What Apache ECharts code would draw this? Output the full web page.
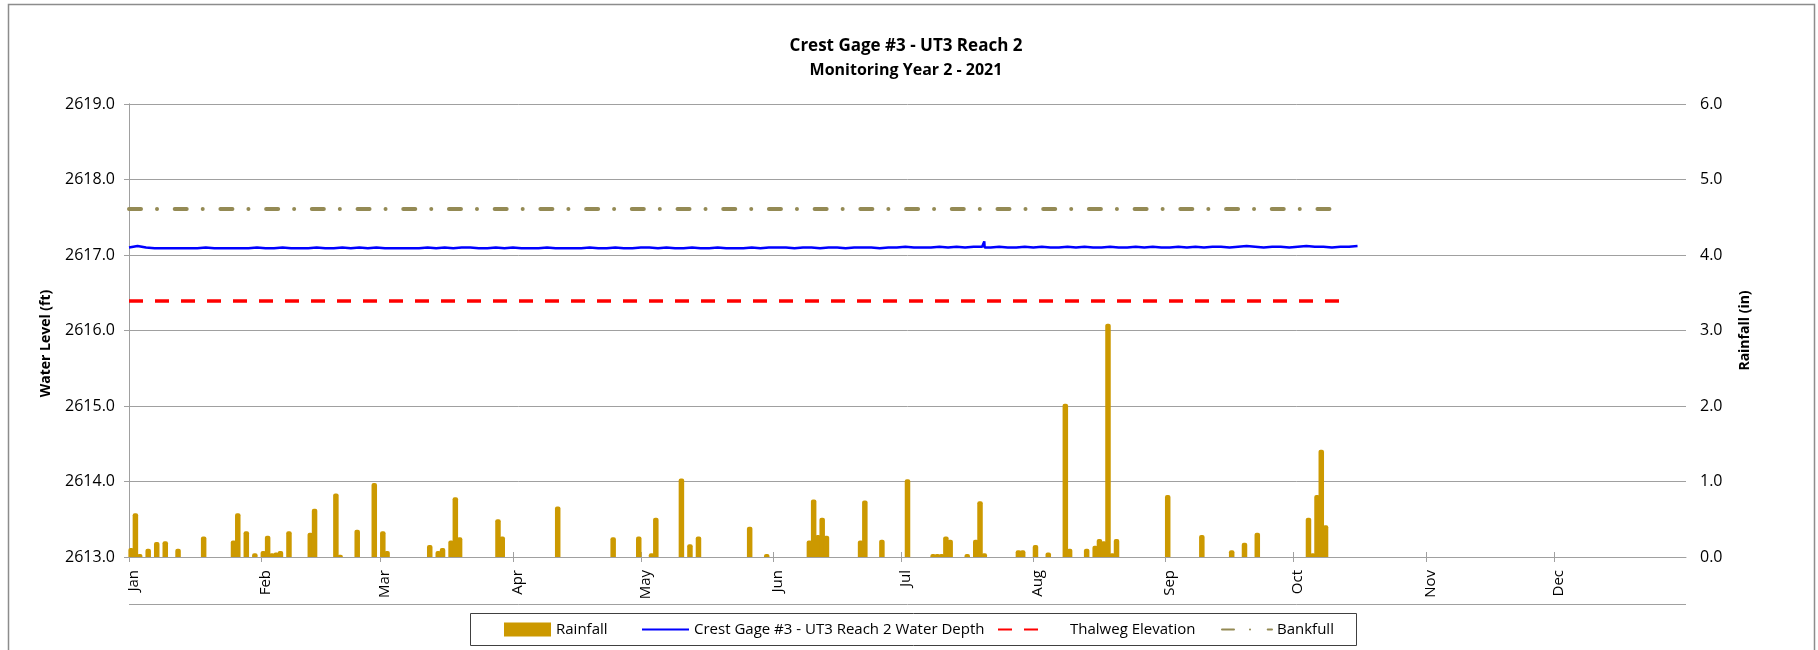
<!DOCTYPE html>
<html>
<head>
<meta charset="utf-8">
<script src="https://cdn.jsdelivr.net/npm/echarts@6/dist/echarts.min.js"></script>
<style>
  html, body { margin: 0; padding: 0; background: #ffffff; }
  #chart { width: 1818px; height: 650px; }
</style>
</head>
<body>
<div id="chart"></div>
<script>
// ---- chart data ----
const YEAR = 2021;
const titleText = 'Crest Gage #3 - UT3 Reach 2';
const subtitleText = 'Monitoring Year 2 - 2021';
const monthLabels = ['Jan', 'Feb', 'Mar', 'Apr', 'May', 'Jun', 'Jul', 'Aug', 'Sep', 'Oct', 'Nov', 'Dec'];

// daily rainfall (in)
const rainDates = [
  '01-01', '01-02', '01-03', '01-05', '01-07', '01-09', '01-12', '01-18', '01-25', '01-26',
  '01-28', '01-30', '02-01', '02-02', '02-03', '02-04', '02-05', '02-07', '02-12', '02-13',
  '02-18', '02-19', '02-23', '02-27', '03-01', '03-02', '03-12', '03-14', '03-15', '03-17',
  '03-18', '03-19', '03-28', '03-29', '04-11', '04-24', '04-30', '05-03', '05-04', '05-10',
  '05-12', '05-14', '05-26', '05-30', '06-09', '06-10', '06-11', '06-12', '06-13', '06-21',
  '06-22', '06-26', '07-02', '07-08', '07-09', '07-10', '07-11', '07-12', '07-16', '07-18',
  '07-19', '07-20', '07-28', '07-29', '08-01', '08-04', '08-08', '08-09', '08-13', '08-15',
  '08-16', '08-17', '08-18', '08-19', '08-20', '09-01', '09-09', '09-16', '09-19', '09-22',
  '10-04', '10-05', '10-06', '10-07', '10-08'
];
const rainValues = [
  0.12, 0.58, 0.04, 0.11, 0.20, 0.21, 0.11, 0.27, 0.22, 0.58,
  0.34, 0.05, 0.08, 0.28, 0.05, 0.06, 0.08, 0.34, 0.32, 0.64,
  0.84, 0.03, 0.36, 0.98, 0.34, 0.08, 0.16, 0.08, 0.12, 0.22,
  0.79, 0.26, 0.50, 0.27, 0.67, 0.26, 0.27, 0.05, 0.52, 1.04,
  0.17, 0.27, 0.40, 0.04, 0.22, 0.76, 0.29, 0.52, 0.28, 0.22,
  0.75, 0.23, 1.03, 0.04, 0.04, 0.04, 0.27, 0.23, 0.04, 0.23,
  0.74, 0.05, 0.09, 0.09, 0.16, 0.06, 2.03, 0.11, 0.11, 0.15,
  0.24, 0.21, 3.09, 0.05, 0.24, 0.82, 0.29, 0.09, 0.19, 0.32,
  0.52, 0.05, 0.82, 1.42, 0.42
];

// gage water surface (ft), one reading every two days from Jan 1
const waterStart = '01-01';
const waterStepDays = 2;
const waterLevels = [
  2617.10, 2617.12, 2617.10, 2617.09, 2617.09, 2617.09, 2617.09, 2617.09, 2617.09, 2617.10, 2617.09, 2617.09, 2617.09, 2617.09, 2617.09, 2617.10,
  2617.09, 2617.09, 2617.10, 2617.09, 2617.09, 2617.09, 2617.10, 2617.09, 2617.09, 2617.10, 2617.09, 2617.10, 2617.09, 2617.10,
  2617.09, 2617.09, 2617.09, 2617.09, 2617.09, 2617.10, 2617.09, 2617.10, 2617.09, 2617.10, 2617.10, 2617.09, 2617.09, 2617.10, 2617.09,
  2617.10, 2617.09, 2617.09, 2617.09, 2617.10, 2617.09, 2617.09, 2617.09, 2617.09, 2617.10, 2617.09, 2617.09, 2617.10, 2617.09, 2617.09,
  2617.10, 2617.10, 2617.09, 2617.10, 2617.09, 2617.09, 2617.10, 2617.09, 2617.09, 2617.10, 2617.09, 2617.09, 2617.09, 2617.10, 2617.09, 2617.10,
  2617.10, 2617.10, 2617.09, 2617.10, 2617.10, 2617.09, 2617.10, 2617.10, 2617.09, 2617.10, 2617.10, 2617.10, 2617.09, 2617.10, 2617.10,
  2617.11, 2617.10, 2617.10, 2617.10, 2617.11, 2617.10, 2617.11, 2617.10, 2617.11, 2617.11, 2617.10, 2617.11, 2617.10, 2617.10, 2617.11,
  2617.10, 2617.11, 2617.10, 2617.10, 2617.11, 2617.10, 2617.11, 2617.10, 2617.10, 2617.11, 2617.10, 2617.10, 2617.11, 2617.10, 2617.11, 2617.10,
  2617.10, 2617.11, 2617.10, 2617.11, 2617.10, 2617.11, 2617.11, 2617.10, 2617.11, 2617.12, 2617.11, 2617.10, 2617.11, 2617.11, 2617.10,
  2617.11, 2617.12, 2617.11, 2617.11, 2617.10, 2617.11, 2617.11, 2617.12
];
// short storm peak on the gage (date, hour, ft)
const peakDates = ['07-20', '07-20', '07-20'];
const peakHours = [10, 12, 14];
const peakLevels = [2617.10, 2617.18, 2617.10];

// reference elevations (ft)
const thalwegDates = ['01-01', '10-13'];
const thalwegLevel = 2616.39;
const bankfullDates = ['01-01', '10-13'];
const bankfullLevel = 2617.61;

// axis ranges
const levelMin = 2613, levelMax = 2619, levelStep = 1;
const rainMin = 0, rainMax = 6, rainStep = 1;

// ---- helpers ----
const DAY_MS = 86400000;
const yearStart = Date.UTC(YEAR, 0, 1);
const daysInYear = (Date.UTC(YEAR + 1, 0, 1) - yearStart) / DAY_MS;
function dayOf(md) {
  const [m, d] = md.split('-').map(Number);
  return (Date.UTC(YEAR, m - 1, d) - yearStart) / DAY_MS;
}
const monthStarts = monthLabels.map((_, i) => (Date.UTC(YEAR, i, 1) - yearStart) / DAY_MS);

// daily totals sit in the middle of their day
const rainData = rainDates.map((d, i) => [dayOf(d) + 0.5, rainValues[i]]);
const waterData = waterLevels
  .map((v, i) => [dayOf(waterStart) + i * waterStepDays, v])
  .concat(peakDates.map((d, i) => [dayOf(d) + peakHours[i] / 24, peakLevels[i]]))
  .sort((a, b) => a[0] - b[0]);
const thalwegData = thalwegDates.map(d => [dayOf(d), thalwegLevel]);
const bankfullData = bankfullDates.map(d => [dayOf(d), bankfullLevel]);

// ---- styling ----
const FONT = '"Open Sans", "Noto Sans", sans-serif';
const GRID_GRAY = '#A0A0A0';
const names = {
  rain: 'Rainfall',
  water: 'Crest Gage #3 - UT3 Reach 2 Water Depth',
  thalweg: 'Thalweg Elevation',
  bankfull: 'Bankfull'
};
const hiddenMarker = { color: 'rgba(0,0,0,0)', borderColor: 'rgba(0,0,0,0)', borderWidth: 0, opacity: 0 };

function legendAt(name, left, extra) {
  return Object.assign({
    data: [name],
    left: left,
    top: 622,
    padding: 0,
    itemWidth: 47,
    itemHeight: 14,
    selectedMode: false,
    textStyle: { fontFamily: FONT, fontSize: 15, color: '#000' }
  }, extra || {});
}

const chart = echarts.init(document.getElementById('chart'), null, { renderer: 'canvas' });

const option = {
  animation: false,
  backgroundColor: '#ffffff',
  textStyle: { fontFamily: FONT, color: '#000' },
  grid: { left: 129, right: 132, top: 104, bottom: 93 },
  xAxis: [
    {
      type: 'value',
      min: 0,
      max: daysInYear,
      position: 'bottom',
      axisLine: { show: true, lineStyle: { color: GRID_GRAY, width: 1 } },
      axisTick: { show: true, customValues: monthStarts, length: 5, lineStyle: { color: GRID_GRAY } },
      axisLabel: {
        customValues: monthStarts,
        rotate: 90,
        margin: 13,
        verticalAlign: 'top',
        lineHeight: 9,
        fontFamily: FONT,
        fontSize: 15,
        color: '#000',
        formatter: v => monthLabels[monthStarts.indexOf(v)] || ''
      },
      splitLine: { show: false }
    },
    {
      type: 'value',
      min: 0,
      max: daysInYear,
      position: 'bottom',
      axisLine: { show: false },
      axisTick: { show: true, inside: true, customValues: monthStarts, length: 5, lineStyle: { color: GRID_GRAY } },
      axisLabel: { show: false },
      splitLine: { show: false }
    }
  ],
  yAxis: [
    {
      type: 'value',
      min: levelMin,
      max: levelMax,
      interval: levelStep,
      position: 'left',
      name: 'Water Level (ft)',
      nameLocation: 'middle',
      nameRotate: 90,
      nameGap: 76,
      nameTextStyle: { fontFamily: FONT, fontSize: 14, fontWeight: 'bold', color: '#000', padding: [0, 26, 0, 0] },
      axisLine: { show: true, lineStyle: { color: GRID_GRAY } },
      axisTick: { show: true, length: 5, lineStyle: { color: GRID_GRAY } },
      axisLabel: { formatter: v => v.toFixed(1), fontFamily: FONT, fontSize: 16, color: '#000', margin: 14 },
      splitLine: { show: true, lineStyle: { color: GRID_GRAY, width: 1 } }
    },
    {
      type: 'value',
      min: rainMin,
      max: rainMax,
      interval: rainStep,
      position: 'right',
      name: 'Rainfall (in)',
      nameLocation: 'middle',
      nameRotate: 90,
      nameGap: 52,
      nameTextStyle: { fontFamily: FONT, fontSize: 14, fontWeight: 'bold', color: '#000' },
      axisLine: { show: true, lineStyle: { color: GRID_GRAY } },
      axisTick: { show: true, length: 5, lineStyle: { color: GRID_GRAY } },
      axisLabel: { formatter: v => v.toFixed(1), fontFamily: FONT, fontSize: 16, color: '#000', margin: 14 },
      splitLine: { show: false }
    }
  ],
  legend: [
    legendAt(names.rain, 504, { icon: 'rect' }),
    legendAt(names.water, 641, { itemStyle: hiddenMarker }),
    legendAt(names.thalweg, 997, {
      itemStyle: hiddenMarker,
      textStyle: { fontFamily: FONT, fontSize: 15, color: '#000', padding: [0, 0, 0, 20] }
    }),
    legendAt(names.bankfull, 1221, { itemWidth: 50, itemStyle: hiddenMarker })
  ],
  series: [
    {
      name: names.rain,
      type: 'bar',
      xAxisIndex: 0,
      yAxisIndex: 1,
      barWidth: 5.5,
      data: rainData,
      itemStyle: { color: '#CC9900', borderRadius: [2, 2, 0, 0] }
    },
    {
      name: names.water,
      type: 'line',
      xAxisIndex: 0,
      yAxisIndex: 0,
      data: waterData,
      symbol: 'none',
      showSymbol: false,
      lineStyle: { color: '#0000FF', width: 2.5 },
      itemStyle: { color: '#0000FF' }
    },
    {
      name: names.thalweg,
      type: 'line',
      xAxisIndex: 0,
      yAxisIndex: 0,
      data: thalwegData,
      symbol: 'none',
      showSymbol: false,
      lineStyle: { color: '#FF0000', width: 3.5, type: [14, 12] },
      itemStyle: { color: '#FF0000' }
    },
    {
      name: names.bankfull,
      type: 'line',
      xAxisIndex: 0,
      yAxisIndex: 0,
      data: bankfullData,
      symbol: 'none',
      showSymbol: false,
      lineStyle: { color: '#948A54', width: 4, type: [12, 16, 0.01, 17.7], cap: 'round' },
      itemStyle: { color: '#948A54' }
    }
  ],
  graphic: [
    // chart frame
    { type: 'rect', silent: true, z: -10,
      shape: { x: 8.5, y: 4.5, width: 1806, height: 700 },
      style: { fill: null, stroke: '#8C8C8C', lineWidth: 1.5 } },
    // rule under the month labels
    { type: 'line', silent: true,
      shape: { x1: 129, y1: 604.5, x2: 1686, y2: 604.5 },
      style: { stroke: GRID_GRAY, lineWidth: 1 } },
    // legend box
    { type: 'rect', silent: true, z: -5,
      shape: { x: 470.5, y: 613.5, width: 886, height: 32 },
      style: { fill: '#ffffff', stroke: '#404040', lineWidth: 1 } },
    // titles
    { type: 'text', silent: true,
      x: 906, y: 46,
      style: { text: titleText, font: 'bold 17px ' + FONT, fill: '#000', textAlign: 'center', textVerticalAlign: 'middle' } },
    { type: 'text', silent: true,
      x: 906, y: 70,
      style: { text: subtitleText, font: 'bold 16px ' + FONT, fill: '#000', textAlign: 'center', textVerticalAlign: 'middle' } }
  ]
};

chart.setOption(option);
</script>
</body>
</html>
